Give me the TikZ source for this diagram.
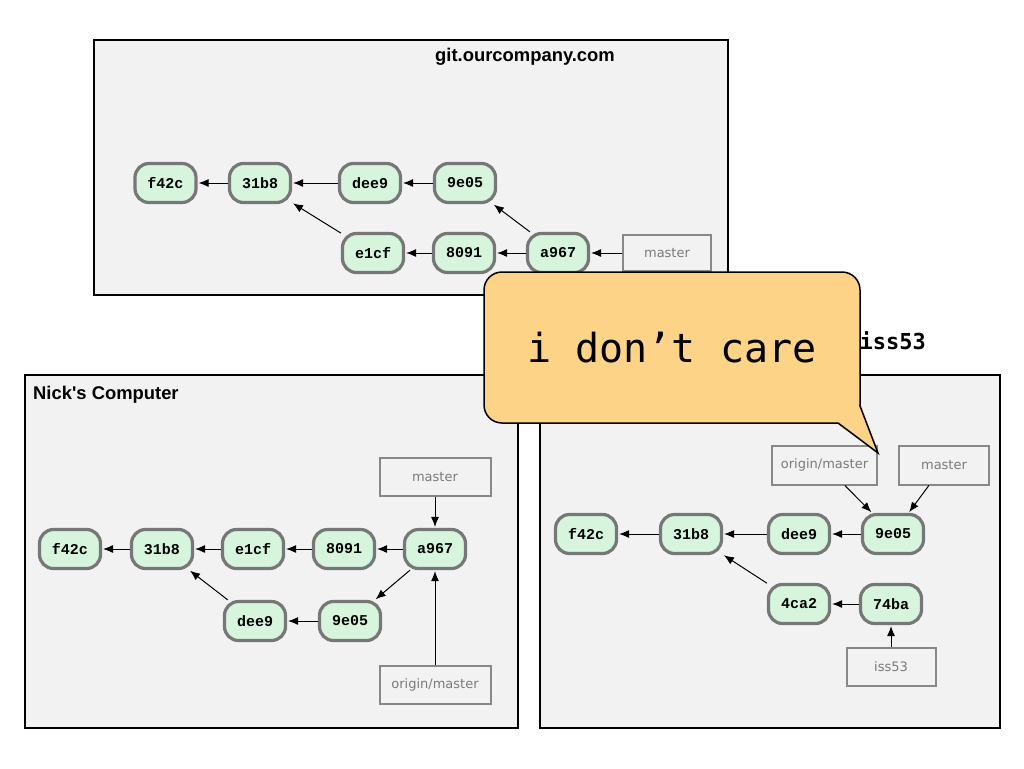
\documentclass[tikz,border=0pt]{standalone}
\usepackage{fontspec}
\setmainfont{Liberation Sans}
\newfontfamily\titlefont{Liberation Sans}
\newfontfamily\commitfont{Liberation Mono}
\newfontfamily\lblfont{DejaVu Sans}
\newfontfamily\menlo{DejaVu Sans Mono}
\usetikzlibrary{arrows.meta}
\definecolor{areafill}{HTML}{F2F2F2}
\definecolor{commitfill}{HTML}{D6F5DC}
\definecolor{commitborder}{HTML}{777777}
\definecolor{lblborder}{HTML}{888888}
\definecolor{lbltext}{HTML}{7A7A7A}
\definecolor{calloutfill}{HTML}{FDD387}
\begin{document}
\begin{tikzpicture}[x=1pt,y=-1pt,
  area/.style={draw=black, line width=2pt, fill=areafill},
  commit/.style={draw=commitborder, line width=3.2pt, fill=commitfill, rounded corners=14pt,
    minimum width=61pt, minimum height=39pt, inner sep=0pt,
    font=\commitfont\bfseries\fontsize{15}{15}\selectfont},
  lbl/.style={draw=lblborder, line width=2pt, fill=areafill, text=lbltext,
    minimum height=38pt, inner sep=0pt, font=\lblfont\fontsize{13}{13}\selectfont},
  arr/.style={-{Latex[length=10pt,width=8pt]}, line width=1pt, shorten >=1pt},
  title/.style={font=\titlefont\bfseries\fontsize{18.4}{18.4}\selectfont}]
\useasboundingbox (0,0) rectangle (1024,768);
\fill[white] (0,0) rectangle (1024,768);

% ---------- server ----------
\draw[area] (94,40) rectangle (728,295);
\node[title] (ttop) at (525,57) {git.ourcompany.com};
\node[commit] (a1) at (165.5,183) {f42c};
\node[commit] (a2) at (260,183) {31b8};
\node[commit] (a3) at (370,183) {dee9};
\node[commit] (a4) at (465,183) {9e05};
\node[commit] (a5) at (373,253) {e1cf};
\node[commit] (a6) at (464,253) {8091};
\node[commit] (a7) at (558,253) {a967};
\node[lbl, minimum width=88pt, minimum height=36pt] (am) at (667,253) {master};
\draw[arr] (a2) -- (a1);
\draw[arr] (a3) -- (a2);
\draw[arr] (a4) -- (a3);
\draw[arr] (a5) -- (a2);
\draw[arr] (a6) -- (a5);
\draw[arr] (a7) -- (a6);
\draw[arr] (a7) -- (a4);
\draw[arr] (am) -- (a7);

% ---------- Nick's computer ----------
\draw[area] (25,375) rectangle (518,728);
\node[title, anchor=west, inner sep=0pt] (tnick) at (33,395) {Nick's Computer};
\node[commit] (b1) at (70,549) {f42c};
\node[commit] (b2) at (162,549) {31b8};
\node[commit] (b3) at (253,549) {e1cf};
\node[commit] (b4) at (344,549) {8091};
\node[commit] (b5) at (435,549) {a967};
\node[commit] (b6) at (255,621) {dee9};
\node[commit] (b7) at (350,621) {9e05};
\node[lbl, minimum width=111pt] (bm) at (435,477) {master};
\node[lbl, minimum width=111pt] (bo) at (435,685) {origin/master};
\draw[arr] (b2) -- (b1);
\draw[arr] (b3) -- (b2);
\draw[arr] (b4) -- (b3);
\draw[arr] (b5) -- (b4);
\draw[arr] (b5) -- (b7);
\draw[arr] (b7) -- (b6);
\draw[arr] (b6) -- (b2);
\draw[arr] (bm) -- (b5);
\draw[arr] (bo) -- (b5);

% ---------- right computer ----------
\draw[area] (540,375) rectangle (1000,728);
\node[anchor=west, font=\menlo\bfseries\fontsize{22}{22}\selectfont] (tiss) at (856,341) {iss53};
\node[commit] (c1) at (586,534) {f42c};
\node[commit] (c2) at (691,534) {31b8};
\node[commit] (c3) at (799,534) {dee9};
\node[commit] (c4) at (893,534) {9e05};
\node[commit] (c5) at (799,604) {4ca2};
\node[commit] (c6) at (891,604) {74ba};
\node[lbl, minimum width=105pt, minimum height=39pt] (co) at (824.5,465) {origin/master};
\node[lbl, minimum width=90pt, minimum height=39pt] (cm) at (944,465) {master};
\node[lbl, minimum width=89pt] (ci) at (891,667) {iss53};
\draw[arr] (c2) -- (c1);
\draw[arr] (c3) -- (c2);
\draw[arr] (c4) -- (c3);
\draw[arr] (c6) -- (c5);
\draw[arr] (c5) -- (c2);
\draw[arr] (co) -- (c4);
\draw[arr] (cm) -- (c4);
\draw[arr] (ci) -- (c6);

% ---------- callout ----------
\draw[fill=calloutfill, line width=1.5pt, rounded corners=18pt] (484,272) rectangle (860,423);
\fill[calloutfill] (838,424.5) -- (878,453) -- (861.5,406) -- (857.5,406) -- (838,420) -- cycle;
\draw[line width=1.5pt, line join=miter] (838,423) -- (878,453) -- (860,406);
\node[font=\menlo\fontsize{40}{40}\selectfont] (say) at (672,348) {i don’t care};
\end{tikzpicture}
\end{document}
